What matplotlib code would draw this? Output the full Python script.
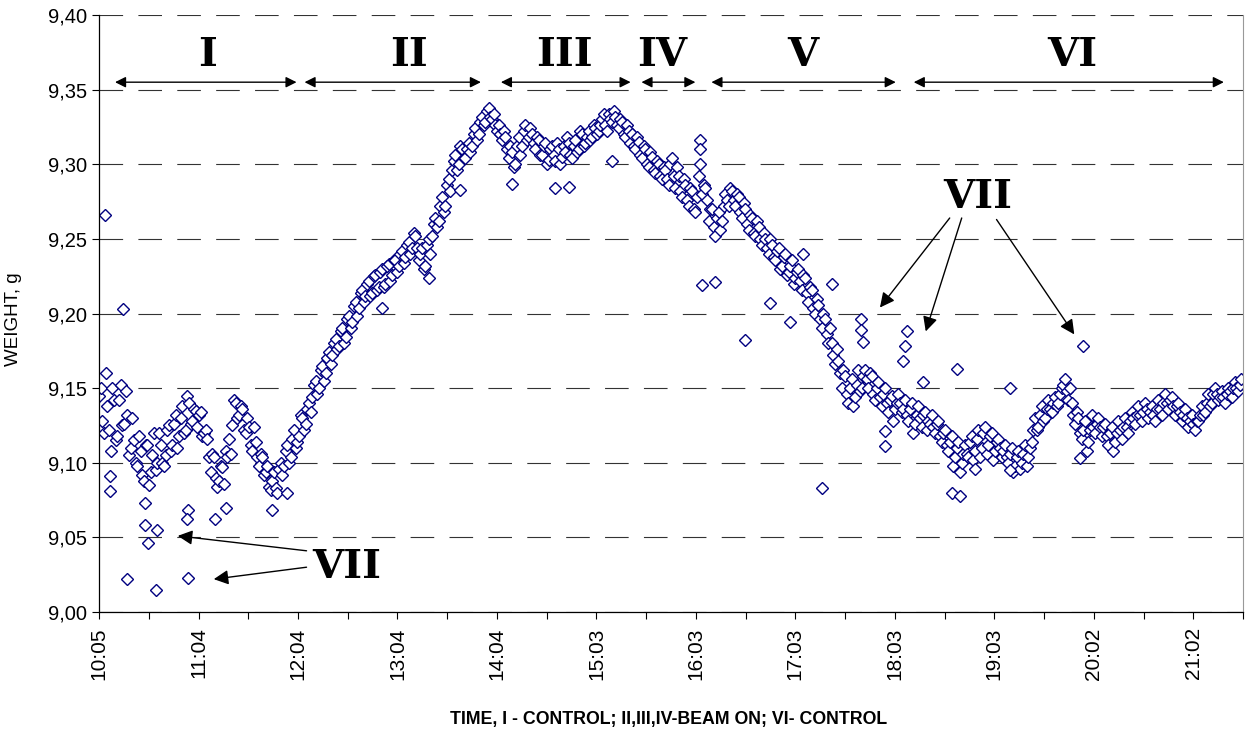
import numpy as np
import matplotlib
matplotlib.use('Agg')
import matplotlib.pyplot as plt

# weight readings at even minutes after 10:05 (g)
weight_even = [
    9.145, 9.128, 9.160, 9.122, 9.150, 9.115, 9.142, 9.125, 9.148, 9.105,
    9.130, 9.100, 9.118, 9.092, 9.112, 9.085, 9.105, 9.095, 9.120, 9.100,
    9.105, 9.125, 9.112, 9.132, 9.118, 9.138, 9.122, 9.140, 9.128, 9.135,
    9.132, 9.118, 9.122, 9.104, 9.106, 9.090, 9.088, 9.097, 9.108, 9.116,
    9.125, 9.140, 9.132, 9.136, 9.120, 9.124, 9.108, 9.114, 9.098, 9.104,
    9.094, 9.084, 9.088, 9.083, 9.096, 9.092, 9.108, 9.100, 9.116, 9.110,
    9.118, 9.130, 9.126, 9.140, 9.144, 9.155, 9.150, 9.165, 9.160, 9.174,
    9.172, 9.183, 9.178, 9.190, 9.184, 9.198, 9.194, 9.208, 9.204, 9.216,
    9.212, 9.222, 9.214, 9.226, 9.218, 9.230, 9.220, 9.233, 9.226, 9.236,
    9.232, 9.242, 9.238, 9.248, 9.244, 9.252, 9.236, 9.244, 9.232, 9.250,
    9.252, 9.264, 9.262, 9.278, 9.272, 9.290, 9.296, 9.306, 9.300, 9.310,
    9.304, 9.314, 9.312, 9.324, 9.320, 9.332, 9.328, 9.338, 9.330, 9.326,
    9.326, 9.316, 9.318, 9.304, 9.308, 9.300, 9.318, 9.312, 9.326, 9.318,
    9.320, 9.310, 9.316, 9.306, 9.314, 9.303, 9.312, 9.302, 9.310, 9.305,
    9.308, 9.314, 9.304, 9.316, 9.310, 9.320, 9.314, 9.322, 9.318, 9.324,
    9.322, 9.330, 9.326, 9.334, 9.328, 9.332, 9.324, 9.328, 9.318, 9.322,
    9.320, 9.310, 9.315, 9.304, 9.310, 9.298, 9.305, 9.294, 9.300, 9.290,
    9.296, 9.286, 9.304, 9.284, 9.292, 9.278, 9.286, 9.272, 9.282, 9.268,
    9.292, 9.280, 9.284, 9.262, 9.270, 9.252, 9.268, 9.262, 9.280, 9.272,
    9.282, 9.272, 9.278, 9.264, 9.270, 9.256, 9.264, 9.252, 9.258, 9.246,
    9.250, 9.240, 9.246, 9.236, 9.244, 9.232, 9.240, 9.228, 9.236, 9.224,
    9.230, 9.216, 9.224, 9.208, 9.216, 9.200, 9.206, 9.190, 9.196, 9.180,
    9.180, 9.166, 9.168, 9.150, 9.158, 9.140, 9.156, 9.144, 9.162, 9.150,
    9.162, 9.150, 9.158, 9.142, 9.154, 9.138, 9.150, 9.134, 9.145, 9.136,
    9.146, 9.134, 9.142, 9.128, 9.140, 9.126, 9.138, 9.124, 9.134, 9.128,
    9.132, 9.120, 9.128, 9.114, 9.122, 9.108, 9.118, 9.104, 9.114, 9.100,
    9.112, 9.104, 9.118, 9.108, 9.122, 9.110, 9.124, 9.112, 9.120, 9.108,
    9.116, 9.104, 9.112, 9.100, 9.110, 9.098, 9.108, 9.100, 9.112, 9.104,
    9.114, 9.130, 9.124, 9.138, 9.130, 9.142, 9.134, 9.144, 9.140, 9.150,
    9.156, 9.142, 9.140, 9.126, 9.130, 9.116, 9.128, 9.114, 9.132, 9.120,
    9.130, 9.118, 9.126, 9.112, 9.124, 9.114, 9.128, 9.116, 9.130, 9.120,
    9.134, 9.126, 9.138, 9.128, 9.140, 9.130, 9.138, 9.128, 9.142, 9.132,
    9.146, 9.136, 9.144, 9.132, 9.140, 9.128, 9.136, 9.124, 9.132, 9.122,
    9.128, 9.138, 9.134, 9.146, 9.140, 9.150, 9.142, 9.148, 9.140, 9.150,
    9.144, 9.154, 9.148, 9.156,
]

# weight readings at odd minutes after 10:05 (g)
weight_odd = [
    9.150, 9.120, 9.138, 9.108, 9.142, 9.118, 9.152, 9.126, 9.132, 9.110,
    9.115, 9.098, 9.108, 9.088, 9.112, 9.094, 9.120, 9.100, 9.112, 9.098,
    9.122, 9.108, 9.126, 9.110, 9.130, 9.120, 9.145, 9.126, 9.136, 9.124,
    9.134, 9.120, 9.116, 9.094, 9.104, 9.084, 9.098, 9.086, 9.104, 9.106,
    9.142, 9.130, 9.138, 9.122, 9.130, 9.112, 9.124, 9.104, 9.106, 9.092,
    9.098, 9.082, 9.094, 9.080, 9.100, 9.098, 9.112, 9.104, 9.122, 9.114,
    9.132, 9.122, 9.136, 9.134, 9.152, 9.146, 9.162, 9.155, 9.170, 9.166,
    9.180, 9.176, 9.188, 9.180, 9.196, 9.190, 9.205, 9.198, 9.214, 9.208,
    9.220, 9.212, 9.225, 9.216, 9.228, 9.218, 9.232, 9.222, 9.236, 9.228,
    9.240, 9.234, 9.246, 9.240, 9.254, 9.244, 9.240, 9.230, 9.246, 9.240,
    9.260, 9.258, 9.272, 9.268, 9.286, 9.282, 9.302, 9.296, 9.312, 9.304,
    9.310, 9.308, 9.320, 9.316, 9.328, 9.326, 9.336, 9.332, 9.334, 9.322,
    9.320, 9.322, 9.310, 9.312, 9.298, 9.312, 9.306, 9.322, 9.316, 9.324,
    9.314, 9.318, 9.306, 9.312, 9.300, 9.310, 9.306, 9.314, 9.300, 9.312,
    9.318, 9.306, 9.312, 9.308, 9.322, 9.312, 9.318, 9.316, 9.326, 9.320,
    9.326, 9.334, 9.322, 9.330, 9.336, 9.326, 9.330, 9.320, 9.326, 9.314,
    9.312, 9.318, 9.306, 9.312, 9.300, 9.308, 9.296, 9.302, 9.292, 9.298,
    9.290, 9.300, 9.292, 9.298, 9.282, 9.290, 9.276, 9.284, 9.270, 9.278,
    9.300, 9.286, 9.276, 9.270, 9.258, 9.264, 9.256, 9.272, 9.276, 9.284,
    9.276, 9.280, 9.268, 9.274, 9.260, 9.266, 9.254, 9.262, 9.250, 9.254,
    9.244, 9.250, 9.238, 9.242, 9.230, 9.238, 9.226, 9.232, 9.220, 9.228,
    9.222, 9.226, 9.214, 9.218, 9.204, 9.210, 9.196, 9.200, 9.186, 9.190,
    9.172, 9.176, 9.160, 9.162, 9.146, 9.150, 9.138, 9.152, 9.148, 9.158,
    9.156, 9.160, 9.146, 9.150, 9.144, 9.146, 9.140, 9.142, 9.128, 9.140,
    9.140, 9.136, 9.132, 9.136, 9.120, 9.132, 9.130, 9.132, 9.122, 9.126,
    9.124, 9.126, 9.118, 9.120, 9.112, 9.114, 9.098, 9.110, 9.094, 9.106,
    9.106, 9.114, 9.102, 9.116, 9.104, 9.120, 9.106, 9.118, 9.102, 9.114,
    9.110, 9.108, 9.104, 9.106, 9.094, 9.104, 9.096, 9.106, 9.098, 9.110,
    9.122, 9.122, 9.132, 9.128, 9.136, 9.136, 9.140, 9.138, 9.146, 9.152,
    9.148, 9.150, 9.132, 9.134, 9.120, 9.122, 9.108, 9.122, 9.124, 9.126,
    9.124, 9.124, 9.118, 9.120, 9.108, 9.120, 9.122, 9.124, 9.124, 9.128,
    9.130, 9.132, 9.132, 9.134, 9.136, 9.134, 9.132, 9.136, 9.136, 9.140,
    9.140, 9.142, 9.138, 9.138, 9.134, 9.132, 9.130, 9.128, 9.126, 9.128,
    9.132, 9.132, 9.140, 9.138, 9.146, 9.146, 9.144, 9.144, 9.146, 9.148,
    9.150, 9.150, 9.152,
]

# single readings away from the band (minutes after 10:05, g)
out_t = [3.6, 14.4, 6.6, 6.6, 27.5, 27.5, 34.7, 29.3, 16.8, 34.1, 53.3,
         53.3, 52.7, 69.5, 76, 103.6, 113, 198, 170, 217, 248, 274, 282,
         308, 361, 361, 362, 370, 388, 440, 423, 434, 403, 415, 457.5,
         457.5, 458.7, 485, 484, 483, 495, 515, 547, 591, 512, 517, 526,
         547, 589, 472, 472]
out_w = [9.266, 9.203, 9.091, 9.081, 9.073, 9.058, 9.055, 9.046, 9.022,
         9.015, 9.023, 9.068, 9.062, 9.062, 9.070, 9.068, 9.080, 9.224,
         9.204, 9.283, 9.287, 9.284, 9.285, 9.302, 9.316, 9.310, 9.219,
         9.221, 9.182, 9.220, 9.240, 9.083, 9.207, 9.194, 9.196, 9.189,
         9.181, 9.188, 9.178, 9.168, 9.154, 9.163, 9.150, 9.178, 9.080,
         9.078, 9.096, 9.095, 9.103, 9.121, 9.111]

tick_labels = ['10:05', '11:04', '12:04', '13:04', '14:04', '15:03',
               '16:03', '17:03', '18:03', '19:03', '20:02', '21:02']
hour_step = 59.73

# periods marked above the curve
periods = ['I', 'II', 'III', 'IV', 'V', 'VI']
period_start = [9.6, 123.4, 241.3, 325.7, 367.7, 489.2]
period_end = [118.6, 229.3, 319.2, 358.1, 478.4, 675.4]
period_mid = [65.3, 186.2, 279.6, 338.3, 422.8, 584.4]

plt.rcParams['font.family'] = ['Liberation Sans', 'DejaVu Sans']
plt.rcParams['lines.scale_dashes'] = False

fig = plt.figure(figsize=(12.52, 7.33), dpi=100)
ax = fig.add_axes([0.0791, 0.1651, 0.9137, 0.8144])

# merge both halves into one time-ordered record
t = np.concatenate([np.arange(len(weight_even)) * 2, np.arange(len(weight_odd)) * 2 + 1])
w = np.concatenate([weight_even, weight_odd])
order = np.argsort(t)

navy = '#000080'
marker = dict(linestyle='none', marker='D', markersize=6.5,
              markerfacecolor='white', markeredgecolor=navy, markeredgewidth=1.0)
ax.plot(t[order], w[order], **marker)
ax.plot(out_t, out_w, **marker)

ax.set_xlim(0, 686)
ax.set_ylim(9.0, 9.4)
yt = np.arange(9.0, 9.401, 0.05)
ax.set_yticks(yt)
ax.set_yticklabels([('%.2f' % v).replace('.', ',') for v in yt])
ax.set_xticks(np.arange(len(tick_labels)) * hour_step)
ax.set_xticklabels(tick_labels, rotation=90)
ax.set_xticks(np.arange(len(tick_labels)) * hour_step + hour_step / 2, minor=True)
ax.tick_params(axis='both', which='both', direction='out', length=5, width=0.8,
               color='black')
ax.tick_params(axis='y', labelsize=14.5)
ax.tick_params(axis='x', labelsize=15, pad=6)

ax.grid(axis='y', color='#333333', linewidth=0.8, linestyle=(0, (17, 11)))
ax.set_axisbelow(True)
ax.spines['top'].set_visible(False)
ax.spines['right'].set_color('#999999')
ax.spines['left'].set_linewidth(0.9)
ax.spines['bottom'].set_linewidth(0.9)

ax.set_ylabel('WEIGHT, g', fontsize=13.5)
ax.yaxis.set_label_coords(-0.067, 0.49)
ax.set_xlabel('TIME, I - CONTROL; II,III,IV-BEAM ON; VI- CONTROL',
              fontsize=12.8, fontweight='bold')
ax.xaxis.set_label_coords(0.498, -0.166)

roman = dict(fontsize=29, fontweight='bold', family='DejaVu Serif',
             ha='center', va='center')
for name, a, b, m in zip(periods, period_start, period_end, period_mid):
    ax.annotate('', xy=(a, 9.355), xytext=(b, 9.355),
                arrowprops=dict(arrowstyle='<|-|>', color='black', lw=1,
                                mutation_scale=16, shrinkA=0, shrinkB=0))
    ax.text(m, 9.373, name, **roman)

# VII: spikes in the record
ax.text(527.5, 9.278, 'VII', **roman)
for x0, y0, x1, y1 in [(510.8, 9.264, 468.9, 9.204),
                       (518.0, 9.264, 496.4, 9.188),
                       (538.9, 9.263, 585.6, 9.186)]:
    ax.annotate('', xy=(x1, y1), xytext=(x0, y0),
                arrowprops=dict(arrowstyle='-|>', color='black', lw=1,
                                mutation_scale=22, shrinkA=0, shrinkB=0))
ax.text(148.5, 9.030, 'VII', **roman)
for x0, y0, x1, y1 in [(124.6, 9.041, 47.3, 9.051),
                       (124.6, 9.030, 68.9, 9.022)]:
    ax.annotate('', xy=(x1, y1), xytext=(x0, y0),
                arrowprops=dict(arrowstyle='-|>', color='black', lw=1,
                                mutation_scale=22, shrinkA=0, shrinkB=0))

fig.savefig('out.png', dpi=100)
